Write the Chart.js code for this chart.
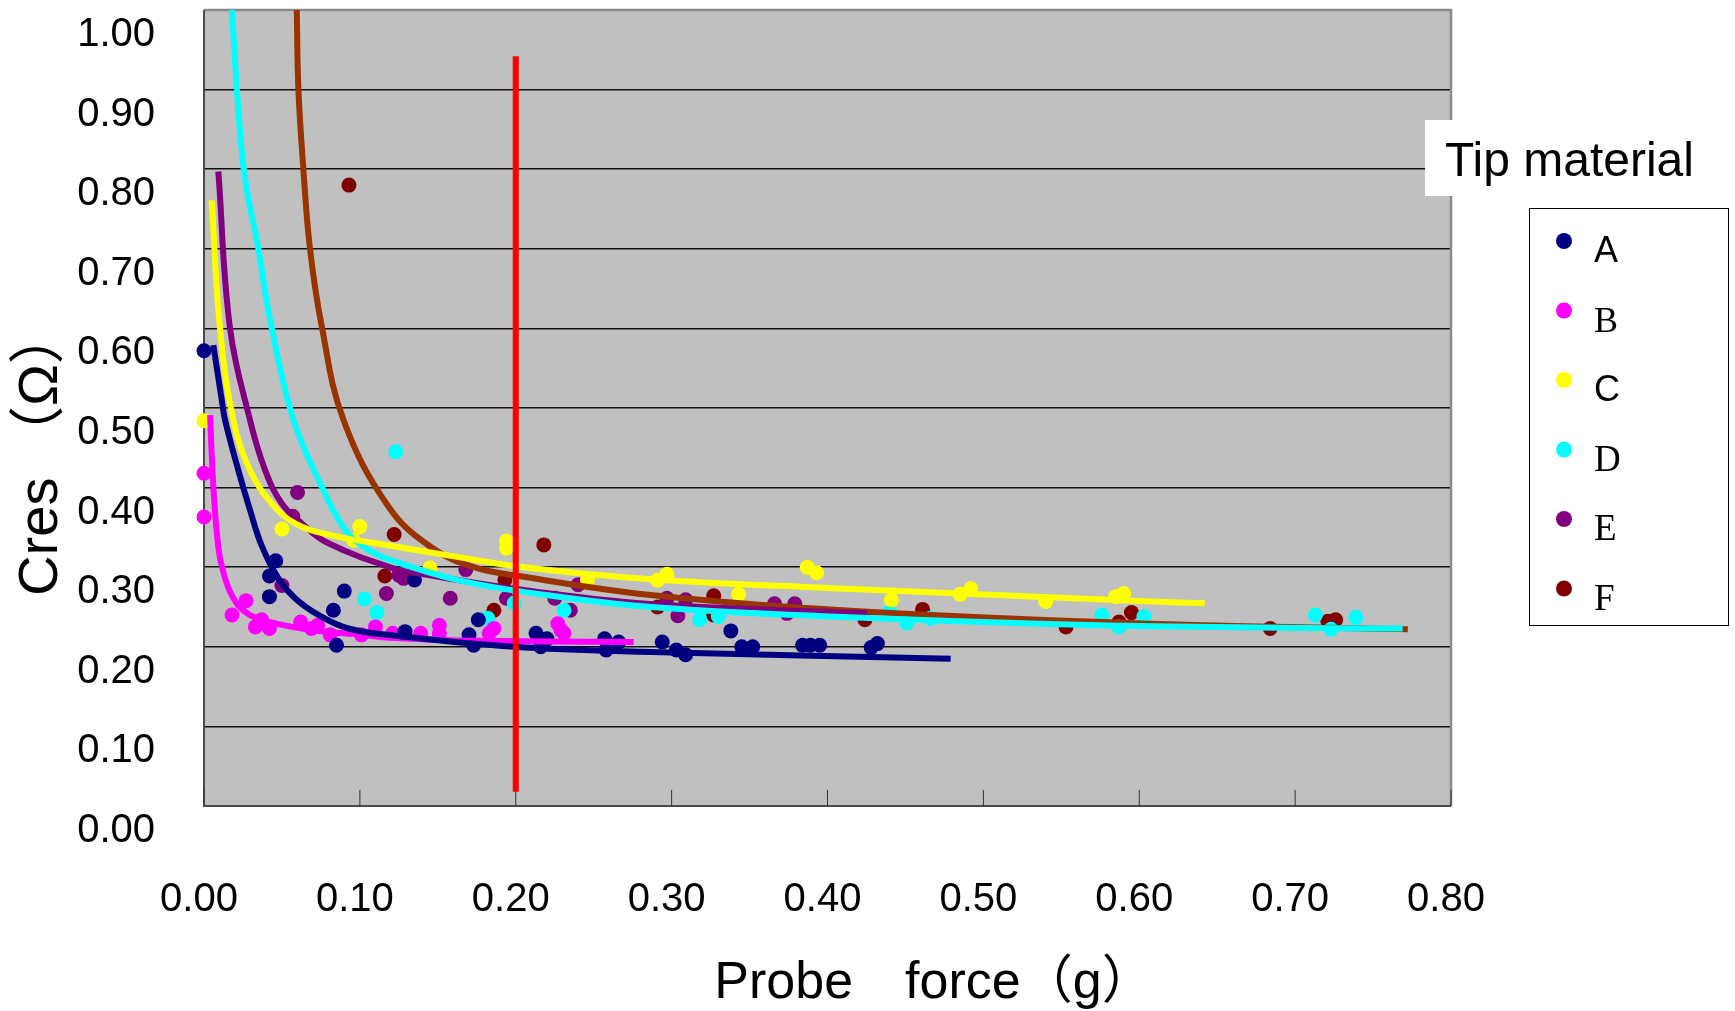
<!DOCTYPE html>
<html>
<head>
<meta charset="utf-8">
<script src="https://cdn.jsdelivr.net/npm/chart.js@4.4.1/dist/chart.umd.min.js"></script>
<style>
  html, body { margin: 0; padding: 0; background: #fff; }
  canvas { display: block; }
</style>
</head>
<body>
<canvas id="cresChart" width="1735" height="1011"></canvas>
<script>
const materials = ['A', 'B', 'C', 'D', 'E', 'F'];

// measured points: [probe force (g), Cres (ohm)]
const pointsA = [
    [0.000, 0.572], [0.042, 0.289], [0.042, 0.263], [0.046, 0.308], [0.083, 0.246],
    [0.085, 0.202], [0.090, 0.270], [0.129, 0.219], [0.135, 0.284], [0.170, 0.215],
    [0.173, 0.202], [0.176, 0.234], [0.213, 0.217], [0.216, 0.200], [0.220, 0.210],
    [0.257, 0.210], [0.258, 0.196], [0.266, 0.206], [0.294, 0.206], [0.303, 0.196],
    [0.309, 0.190], [0.338, 0.220], [0.345, 0.200], [0.352, 0.200], [0.384, 0.202],
    [0.389, 0.202], [0.395, 0.202], [0.428, 0.199], [0.432, 0.204],
];
const pointsB = [
    [0.000, 0.418], [0.000, 0.363], [0.018, 0.240], [0.027, 0.258], [0.033, 0.225],
    [0.037, 0.234], [0.042, 0.223], [0.062, 0.231], [0.069, 0.223], [0.073, 0.227],
    [0.081, 0.215], [0.101, 0.215], [0.110, 0.225], [0.121, 0.217], [0.139, 0.217],
    [0.151, 0.227], [0.151, 0.217], [0.183, 0.217], [0.186, 0.223], [0.227, 0.229],
    [0.229, 0.221], [0.231, 0.217],
];
const pointsC = [
    [0.000, 0.484], [0.050, 0.348], [0.096, 0.334], [0.100, 0.351], [0.145, 0.299],
    [0.194, 0.333], [0.194, 0.324], [0.246, 0.284], [0.291, 0.284], [0.297, 0.291],
    [0.343, 0.266], [0.387, 0.300], [0.393, 0.293], [0.441, 0.259], [0.485, 0.266],
    [0.492, 0.273], [0.540, 0.257], [0.585, 0.263], [0.590, 0.267],
];
const pointsD = [
    [0.103, 0.260], [0.111, 0.243], [0.123, 0.445], [0.182, 0.236], [0.199, 0.255],
    [0.231, 0.246], [0.318, 0.234], [0.330, 0.238], [0.440, 0.244], [0.451, 0.230],
    [0.466, 0.236], [0.576, 0.240], [0.587, 0.225], [0.603, 0.238], [0.713, 0.240],
    [0.723, 0.222], [0.739, 0.237],
];
const pointsE = [
    [0.050, 0.277], [0.057, 0.364], [0.060, 0.394], [0.117, 0.267], [0.125, 0.290],
    [0.128, 0.286], [0.158, 0.261], [0.168, 0.297], [0.194, 0.261], [0.225, 0.261],
    [0.235, 0.246], [0.240, 0.278], [0.297, 0.261], [0.304, 0.239], [0.309, 0.259],
    [0.366, 0.254], [0.374, 0.242], [0.379, 0.254],
];
const pointsF = [
    [0.093, 0.780], [0.116, 0.289], [0.122, 0.341], [0.186, 0.246], [0.193, 0.284],
    [0.218, 0.328], [0.291, 0.250], [0.327, 0.264], [0.327, 0.240], [0.424, 0.234],
    [0.451, 0.235], [0.461, 0.247], [0.553, 0.225], [0.587, 0.231], [0.595, 0.243],
    [0.684, 0.223], [0.721, 0.232], [0.726, 0.234],
];

// trend curves
const fitA = [
    [0.006, 0.579], [0.0114, 0.510], [0.0135, 0.485], [0.022, 0.422], [0.0295, 0.372],
    [0.037, 0.327], [0.0477, 0.286], [0.0584, 0.261], [0.0734, 0.240], [0.0927, 0.223],
    [0.1227, 0.214], [0.1987, 0.200], [0.2865, 0.1935], [0.479, 0.185],
];
const fitB = [
    [0.0039, 0.491], [0.006, 0.401], [0.0092, 0.325], [0.0124, 0.294], [0.0178, 0.265],
    [0.0263, 0.244], [0.0413, 0.2315], [0.0692, 0.221], [0.1013, 0.215], [0.1227, 0.211],
    [0.1623, 0.208], [0.2757, 0.206],
];
const fitC = [
    [0.0049, 0.761], [0.0103, 0.600], [0.0188, 0.485], [0.0295, 0.422], [0.0435, 0.380],
    [0.0584, 0.355], [0.0798, 0.341], [0.1227, 0.326], [0.1623, 0.313], [0.205, 0.300],
    [0.2865, 0.285], [0.400, 0.274], [0.6076, 0.257], [0.642, 0.2546],
];
const fitD = [
    [0.0178, 1.000], [0.0253, 0.803], [0.0349, 0.700], [0.0424, 0.611], [0.0574, 0.485],
    [0.0756, 0.401], [0.0906, 0.347], [0.1055, 0.322], [0.1227, 0.307], [0.1623, 0.284],
    [0.205, 0.269], [0.2865, 0.250], [0.436, 0.2356], [0.600, 0.226], [0.769, 0.223],
];
const fitE = [
    [0.0092, 0.797], [0.0167, 0.600], [0.0295, 0.485], [0.0392, 0.422], [0.0499, 0.380],
    [0.0627, 0.355], [0.0798, 0.330], [0.1227, 0.298], [0.141, 0.291], [0.205, 0.2714],
    [0.2865, 0.2538], [0.4256, 0.242],
];
const fitF = [
    [0.0595, 1.000], [0.0606, 0.899], [0.0638, 0.799], [0.068, 0.700], [0.0756, 0.602],
    [0.0895, 0.485], [0.1184, 0.376], [0.1451, 0.326], [0.173, 0.300],
    [0.205, 0.288], [0.2865, 0.265], [0.4256, 0.244], [0.6076, 0.229], [0.7723, 0.222],
];

// red reference line at 0.2 g
const limitLine = [[0.2, 0.018], [0.2, 0.942]];

const markerColors = ['#000080', '#ff00ff', '#ffff00', '#00ffff', '#800080', '#800000'];
const fitColors = ['#000080', '#ff00ff', '#ffff00', '#00ffff', '#800080', '#993300'];

const SANS = '"Liberation Sans", Arial, "Noto Sans CJK JP", sans-serif';
const SERIF = '"Liberation Serif", "Times New Roman", serif';
// the legend letters mix two typefaces in the original
const legendFonts = ['36px ' + SANS, '36px ' + SERIF, '36px ' + SANS, '37px ' + SERIF, '37px ' + SERIF, '37px ' + SERIF];

function toXY(pairs) {
    return pairs.map(p => ({ x: p[0], y: p[1] }));
}

const chartDecor = {
    id: 'chartDecor',
    beforeDraw(chart) {
        const { ctx, chartArea: a } = chart;
        ctx.save();
        ctx.fillStyle = '#c0c0c0';
        ctx.fillRect(a.left, a.top, a.right - a.left, a.bottom - a.top);
        ctx.restore();
    },
    beforeDatasetsDraw(chart) {
        const { ctx, chartArea: a, scales } = chart;
        ctx.save();
        ctx.lineWidth = 2.5;
        ctx.strokeStyle = '#8a8a8a';
        ctx.beginPath();
        ctx.moveTo(a.left, a.top);
        ctx.lineTo(a.right, a.top);
        ctx.lineTo(a.right, a.bottom);
        ctx.stroke();

        ctx.lineWidth = 2;
        ctx.strokeStyle = '#4a4a4a';
        ctx.beginPath();
        ctx.moveTo(a.left, a.top);
        ctx.lineTo(a.left, a.bottom);
        ctx.lineTo(a.right, a.bottom);
        ctx.stroke();

        // short tick marks pointing into the plot
        ctx.lineWidth = 1;
        ctx.strokeStyle = '#333';
        scales.x.ticks.forEach((t, i) => {
            const px = scales.x.getPixelForTick(i);
            ctx.beginPath();
            ctx.moveTo(px, a.bottom);
            ctx.lineTo(px, a.bottom - 16);
            ctx.stroke();
        });
        ctx.restore();
    },
    afterDraw(chart) {
        const { ctx } = chart;
        ctx.save();

        // axis titles
        ctx.fillStyle = '#000';
        ctx.font = '52px ' + SANS;
        ctx.textAlign = 'center';
        ctx.textBaseline = 'middle';
        ctx.fillText('Probe\u3000force\uff08g\uff09', 934, 984);

        ctx.save();
        ctx.translate(42, 452);
        ctx.rotate(-Math.PI / 2);
        ctx.font = '56px ' + SANS;
        ctx.fillText('Cres \uff08\u03a9\uff09', 0, 0);
        ctx.restore();

        // legend title in its white box
        ctx.fillStyle = '#fff';
        ctx.fillRect(1425, 120, 310, 76);
        ctx.fillStyle = '#000';
        ctx.font = '48px ' + SANS;
        ctx.textAlign = 'left';
        ctx.textBaseline = 'alphabetic';
        ctx.fillText('Tip material', 1445, 176);

        // legend box
        ctx.strokeStyle = '#000';
        ctx.lineWidth = 1;
        ctx.strokeRect(1529.5, 208.5, 199, 417);

        const measured = chart.data.datasets.filter(d => d.isMeasured);
        measured.forEach((ds, i) => {
            const cy = 241 + i * 69.5;
            ctx.fillStyle = ds.backgroundColor;
            ctx.beginPath();
            ctx.arc(1564, cy, 8, 0, Math.PI * 2);
            ctx.fill();
            ctx.fillStyle = '#000';
            ctx.font = legendFonts[i];
            ctx.fillText(ds.label, 1594, cy + 21);
        });
        ctx.restore();
    },
};

function buildDatasets() {
    const points = [pointsA, pointsB, pointsC, pointsD, pointsE, pointsF];
    const fits = [fitA, fitB, fitC, fitD, fitE, fitF];
    const datasets = [];

    datasets.push({
        label: 'limit',
        data: toXY(limitLine),
        showLine: true,
        borderColor: '#ff0000',
        borderWidth: 6,
        pointRadius: 0,
        order: 0,
    });

    materials.forEach((m, i) => {
        datasets.push({
            label: m + ' fit',
            data: toXY(fits[i]),
            showLine: true,
            borderColor: fitColors[i],
            borderWidth: 6,
            pointRadius: 0,
            tension: 0.4,
            order: 1,
        });
    });

    materials.forEach((m, i) => {
        datasets.push({
            label: m,
            isMeasured: true,
            data: toXY(points[i]),
            backgroundColor: markerColors[i],
            borderWidth: 0,
            pointRadius: 7.5,
            pointHoverRadius: 7.5,
            clip: false,
            order: 2,
        });
    });
    return datasets;
}

const tickFont = { family: SANS, size: 40 };

new Chart(document.getElementById('cresChart').getContext('2d'), {
    type: 'scatter',
    data: { datasets: buildDatasets() },
    plugins: [chartDecor],
    options: {
        responsive: false,
        animation: false,
        events: [],
        layout: { padding: { top: 10, right: 284, left: 0, bottom: 0 } },
        plugins: {
            legend: { display: false },
            tooltip: { enabled: false },
        },
        scales: {
            x: {
                type: 'linear',
                min: 0,
                max: 0.8,
                afterFit(scale) {
                    scale.height = 205;
                    scale.paddingLeft = 0;
                    scale.paddingRight = 0;
                },
                ticks: {
                    stepSize: 0.1,
                    padding: 70,
                    labelOffset: -5,
                    color: '#000',
                    font: tickFont,
                    maxRotation: 0,
                    autoSkip: false,
                    callback: v => v.toFixed(2),
                },
                grid: { display: false, drawTicks: false },
                border: { display: false },
            },
            y: {
                min: 0,
                max: 1,
                afterFit(scale) {
                    scale.width = 204;
                    scale.paddingTop = 0;
                    scale.paddingBottom = 0;
                },
                ticks: {
                    stepSize: 0.1,
                    padding: 49,
                    labelOffset: 25,
                    color: '#000',
                    font: tickFont,
                    callback: v => v.toFixed(2),
                },
                grid: {
                    color: c => (c.tick && c.tick.value === 1 ? '#8a8a8a' : '#111'),
                    lineWidth: 1.5,
                    drawTicks: false,
                },
                border: { display: false },
            },
        },
    },
});
</script>
</body>
</html>
